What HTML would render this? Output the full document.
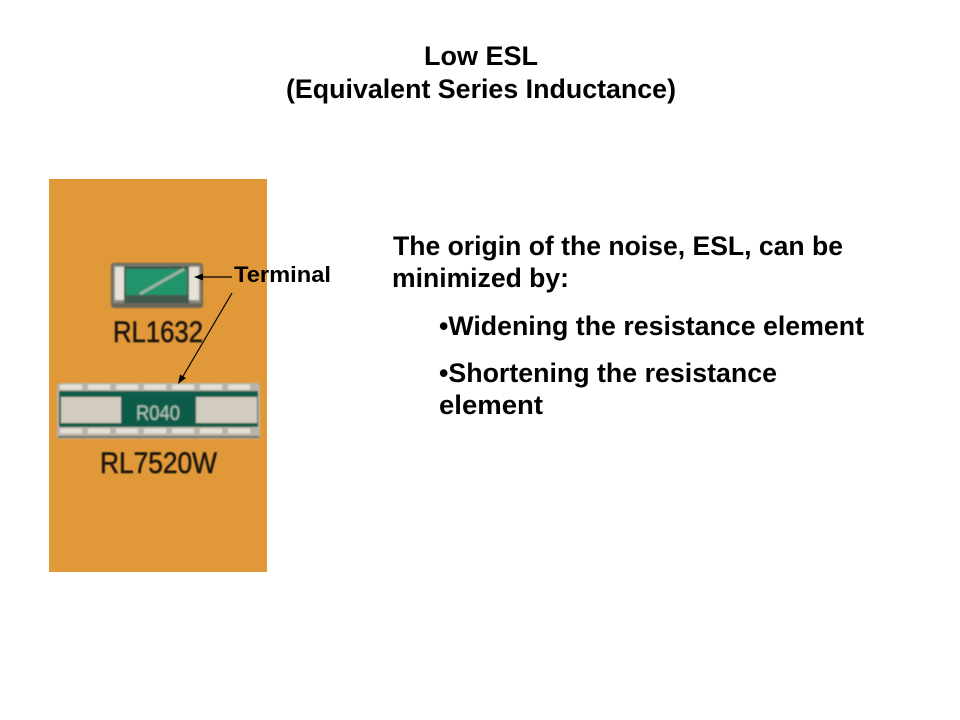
<!DOCTYPE html>
<html><head><meta charset="utf-8"><style>
html,body{margin:0;padding:0;background:#fff}
svg{display:block}
text{font-family:"Liberation Sans",Arial,sans-serif;font-weight:bold;fill:#000}
.s{font-size:26.5px}
.i{font-weight:normal;fill:#1c130a;font-size:30px;stroke:#1c130a;stroke-width:.5px}
</style></head><body>
<svg width="960" height="720" viewBox="0 0 960 720" xmlns="http://www.w3.org/2000/svg">
<defs>
<filter id="b" x="-5%" y="-5%" width="110%" height="110%"><feGaussianBlur stdDeviation="0.9"/></filter>
<filter id="c" x="-5%" y="-5%" width="110%" height="110%"><feGaussianBlur stdDeviation="0.5"/></filter>
</defs>
<rect width="960" height="720" fill="#fff"/>
<rect x="49" y="179" width="218" height="393" fill="#e09838"/>
<g filter="url(#b)">
<rect x="111" y="263" width="92" height="45" rx="3" fill="#6b675f"/>
<rect x="113" y="265" width="88" height="38" fill="#8d8a80"/>
<rect x="124" y="266" width="65" height="37" fill="#3f5a4e"/>
<rect x="115" y="267" width="9" height="33" fill="#e6e2d8"/>
<rect x="189" y="267" width="10" height="33" fill="#e6e2d8"/>
<rect x="126" y="269" width="61" height="26" fill="#22946c"/>
<path d="M140 294 L184 269" stroke="#9cb5a6" stroke-width="3" fill="none"/>
<rect x="57" y="383" width="203" height="56" rx="3" fill="#b9b4a9"/>
<rect x="59" y="391" width="199" height="36" fill="#0f5c4a"/>
<rect x="61" y="397" width="60" height="26" fill="#d2ccc0"/>
<rect x="196" y="397" width="61" height="26" fill="#d2ccc0"/>
<path d="M60 387 H256 M60 431 H256" stroke="#e4e0d6" stroke-width="5" stroke-dasharray="22 6" fill="none"/>
<path d="M58 437 H259" stroke="#6f6b62" stroke-width="2" fill="none"/>
<text x="136" y="420" textLength="44" lengthAdjust="spacingAndGlyphs" style="font-weight:normal;font-size:21px;fill:#aec8bc">R040</text>
</g>
<g filter="url(#c)">
<text class="i" x="113" y="342" textLength="90" lengthAdjust="spacingAndGlyphs">RL1632</text>
<text class="i" x="100" y="473" textLength="117" lengthAdjust="spacingAndGlyphs">RL7520W</text>
</g>
<line x1="232" y1="277" x2="201" y2="277" stroke="#000" stroke-width="1.2"/>
<path d="M194 277 L203 273.5 V280.5 Z" fill="#000"/>
<line x1="232" y1="293" x2="182" y2="378" stroke="#000" stroke-width="1.2"/>
<path d="M178 384 L180 374.5 L186 378 Z" fill="#000"/>
<text x="234" y="282" style="font-size:22.5px" textLength="97" lengthAdjust="spacingAndGlyphs">Terminal</text>
<text class="s" x="424" y="65" textLength="114" lengthAdjust="spacingAndGlyphs">Low ESL</text>
<text class="s" x="286" y="98" textLength="390" lengthAdjust="spacingAndGlyphs">(Equivalent Series Inductance)</text>
<text class="s" x="393" y="255" textLength="450" lengthAdjust="spacingAndGlyphs">The origin of the noise, ESL, can be</text>
<text class="s" x="392" y="287" textLength="177" lengthAdjust="spacingAndGlyphs">minimized by:</text>
<text class="s" x="439" y="335" textLength="425" lengthAdjust="spacingAndGlyphs">•Widening the resistance element</text>
<text class="s" x="439" y="382" textLength="338" lengthAdjust="spacingAndGlyphs">•Shortening the resistance</text>
<text class="s" x="439" y="414" textLength="104" lengthAdjust="spacingAndGlyphs">element</text>
</svg>
</body></html>
